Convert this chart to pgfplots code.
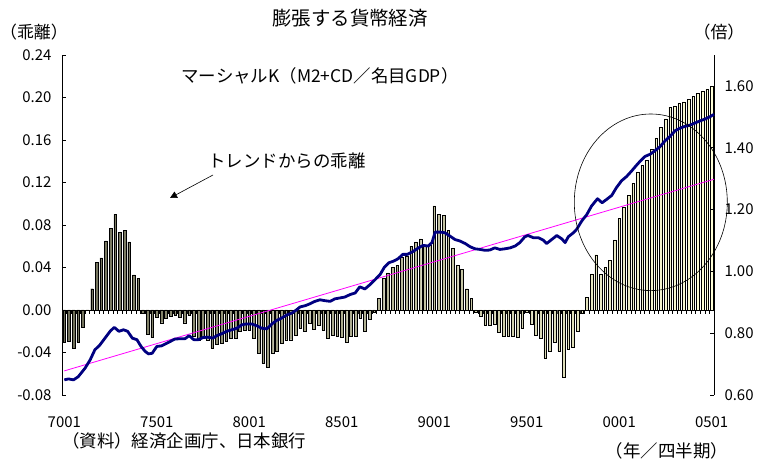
\documentclass[border=0pt]{standalone}
\usepackage{fontspec}
\setmainfont{Noto Sans CJK JP}
\usepackage{pgfplots}
\usepackage{pgfplotstable}
\pgfplotsset{compat=1.18}
\usetikzlibrary{arrows.meta}
\definecolor{kline}{RGB}{0,0,128}
\definecolor{barL}{RGB}{110,110,88}
\definecolor{barR}{RGB}{255,255,215}
\definecolor{trend}{RGB}{255,0,255}

\pgfplotstableread{
i v
0 -0.030
1 -0.029
2 -0.036
3 -0.030
4 -0.016
5 0.000
6 0.020
7 0.045
8 0.049
9 0.065
10 0.077
11 0.090
12 0.073
13 0.075
14 0.064
15 0.033
16 0.030
17 -0.003
18 -0.023
19 -0.026
20 -0.007
21 -0.012
22 -0.0075
23 -0.006
24 -0.005
25 -0.007
26 -0.012
27 -0.005
28 -0.025
29 -0.028
30 -0.027
31 -0.028
32 -0.036
33 -0.032
34 -0.031
35 -0.029
36 -0.027
37 -0.027
38 -0.020
39 -0.019
40 -0.019
41 -0.027
42 -0.041
43 -0.050
44 -0.054
45 -0.041
46 -0.039
47 -0.031
48 -0.028
49 -0.028
50 -0.024
51 -0.017
52 -0.020
53 -0.0125
54 -0.018
55 -0.014
56 -0.019
57 -0.027
58 -0.024
59 -0.025
60 -0.026
61 -0.030
62 -0.025
63 -0.025
64 -0.008
65 -0.020
66 -0.009
67 -0.0025
68 0.011
69 0.030
70 0.035
71 0.040
72 0.042
73 0.050
74 0.051
75 0.060
76 0.064
77 0.067
78 0.060
79 0.061
80 0.098
81 0.090
82 0.089
83 0.075
84 0.058
85 0.042
86 0.038
87 0.020
88 0.011
89 -0.002
90 -0.006
91 -0.014
92 -0.014
93 -0.013
94 -0.021
95 -0.025
96 -0.025
97 -0.025
98 -0.026
99 -0.017
100 -0.002
101 -0.013
102 -0.024
103 -0.027
104 -0.045
105 -0.039
106 -0.030
107 -0.039
108 -0.063
109 -0.037
110 -0.035
111 -0.020
112 -0.003
113 0.012
114 0.034
115 0.052
116 0.034
117 0.040
118 0.047
119 0.066
120 0.086
121 0.097
122 0.108
123 0.119
124 0.130
125 0.136
126 0.141
127 0.151
128 0.162
129 0.172
130 0.180
131 0.191
132 0.192
133 0.195
134 0.196
135 0.198
136 0.201
137 0.204
138 0.206
139 0.208
140 0.211
}\bars

\pgfplotstableread{
i k
0 0.649
0.9 0.652
2 0.649
3 0.659
4.5 0.687
5.6 0.714
6.6 0.746
7.7 0.762
8.8 0.784
9.9 0.806
10.8 0.819
11.8 0.806
12.8 0.811
13.7 0.806
14.7 0.784
15.7 0.779
16.6 0.757
17.5 0.741
18.2 0.733
19 0.735
20 0.757
21 0.759
22.5 0.770
23.9 0.781
25 0.782
26.1 0.782
27 0.792
28 0.779
29 0.779
30 0.786
31.1 0.787
32.1 0.784
33 0.792
34 0.798
35.1 0.806
36.2 0.811
37.3 0.816
38.4 0.827
39.4 0.830
40.5 0.830
41.6 0.824
42.7 0.816
43.8 0.814
44.9 0.830
45.9 0.841
47 0.849
48.1 0.859
49.2 0.865
50 0.873
51 0.885
52.1 0.889
53.1 0.895
54.2 0.903
55.3 0.908
56.4 0.905
57.5 0.903
58.5 0.911
59.6 0.914
60.7 0.917
61.8 0.925
62.9 0.930
63.9 0.950
65 0.943
66.1 0.957
67.2 0.973
68.3 0.990
69.2 1.013
70.2 1.028
71.2 1.033
72.2 1.041
73.2 1.055
74.2 1.055
75.5 1.065
76.6 1.076
77.6 1.084
78.7 1.082
79.5 1.093
80.2 1.127
81.3 1.127
82.3 1.125
83.4 1.114
84.5 1.103
85.6 1.098
86.7 1.090
87.7 1.080
88.8 1.073
89.9 1.071
91 1.068
92 1.069
93.1 1.076
94.2 1.071
95.3 1.073
96.4 1.076
97.5 1.082
98.5 1.093
99.6 1.112
100.3 1.116
101.4 1.109
102.5 1.109
103.6 1.101
104.3 1.090
105.4 1.103
106.5 1.116
107.6 1.105
108.3 1.093
109 1.112
110.1 1.125
110.8 1.136
111.9 1.163
113 1.184
114 1.211
115.3 1.235
116.3 1.222
117.3 1.233
118.4 1.246
119.4 1.271
120.5 1.293
121.6 1.307
122.7 1.325
123.6 1.341
124.5 1.356
125.6 1.372
126.7 1.379
127.7 1.390
128.8 1.403
129.9 1.422
131 1.437
132.1 1.455
133.1 1.463
134.2 1.469
135.3 1.473
136.4 1.480
137.5 1.487
138.6 1.493
139.6 1.500
140.5 1.508
}\kdata

\pgfplotstableread{
i t
0 0.678
140.5 1.298
}\trenddata

\begin{document}
\begin{tikzpicture}
\path[use as bounding box] (0bp,0bp) rectangle (770bp,462bp);
\pgfplotsset{
  common/.style={
    at={(62bp,67bp)}, anchor=south west, scale only axis,
    width=652bp, height=340bp, xmin=-0.5, xmax=140.5,
    axis line style={-, black, line width=0.6bp},
    tick style={black, line width=0.5bp},
    major tick length=4bp, tick align=inside,
    ticklabel style={font=\fontsize{15}{17}\selectfont},
    /pgf/number format/assume math mode=true,
    yticklabel style={/pgf/number format/fixed, /pgf/number format/fixed zerofill, /pgf/number format/precision=2},
    clip=false,
  }
}
\begin{axis}[common,
  ymin=-0.08, ymax=0.24,
  axis y line*=left, axis x line*=middle,
  xtick={-0.5,0.5,...,140.5}, xticklabels={},
  xtick align=outside,
  ytick={-0.08,-0.04,0,0.04,0.08,0.12,0.16,0.20,0.24},
  yticklabel style={xshift=-7bp},
]
\addplot[ybar, bar width=2.7bp, draw=black, line width=0.4bp, left color=barL, right color=barR] table[x=i,y=v]{\bars};
\end{axis}
\begin{axis}[common,
  ymin=0.6, ymax=1.7,
  axis y line*=right, axis x line*=bottom,
  x axis line style={draw=none},
  xtick={0,20,40,60,80,100,120,140},
  xticklabels={7001,7501,8001,8501,9001,9501,0001,0501},
  major x tick style={draw=none},
  xticklabel style={yshift=-18bp},
  ytick={0.6,0.8,1.0,1.2,1.4,1.6},
  yticklabel style={xshift=7bp},
]
\addplot[trend, line width=0.8bp] table[x=i,y=t]{\trenddata};
\addplot[kline, line width=2.8bp, line join=round] table[x=i,y=k]{\kdata};
\end{axis}
\draw[black, line width=0.6bp] (650.8bp,259.7bp) ellipse [x radius=76.5bp, y radius=88.3bp];
\draw[black, line width=0.6bp, -{Triangle[length=7bp,width=7bp]}] (213bp,287bp) -- (170bp,264bp);
\node[font=\fontsize{19.5}{22}\selectfont] at (350bp,444bp) {膨張する貨幣経済};
\node[font=\fontsize{17}{19}\selectfont] at (34bp,430bp) {（乖離）};
\node[font=\fontsize{17}{19}\selectfont] at (719bp,430bp) {（倍）};
\node[font=\fontsize{17.5}{20}\selectfont] at (320bp,386bp) {マーシャルK（M2+CD／名目GDP）};
\node[font=\fontsize{17.5}{20}\selectfont] at (287bp,301bp) {トレンドからの乖離};
\node[font=\fontsize{17.5}{20}\selectfont, anchor=west, inner sep=0pt] at (62bp,21bp) {（資料）経済企画庁、日本銀行};
\node[font=\fontsize{17.5}{20}\selectfont] at (667bp,11bp) {（年／四半期）};
\end{tikzpicture}
\end{document}
